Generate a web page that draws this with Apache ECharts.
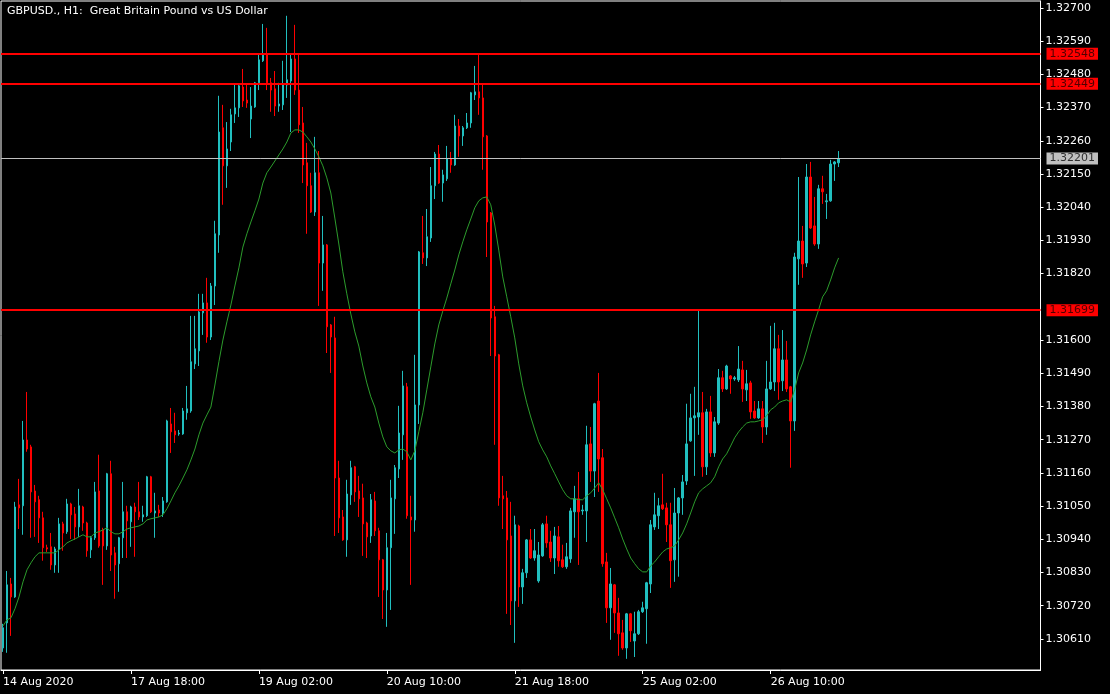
<!DOCTYPE html>
<html>
<head>
<meta charset="utf-8">
<script src="https://cdn.jsdelivr.net/npm/echarts@6/dist/echarts.min.js"></script>
<style>
html,body{margin:0;padding:0;background:#000;}
#chart{width:1110px;height:694px;}
</style>
</head>
<body>
<div id="chart"></div>
<script>
const titleText = 'GBPUSD., H1:  Great Britain Pound vs US Dollar';
const xTickLabels = ['14 Aug 2020','17 Aug 18:00','19 Aug 02:00','20 Aug 10:00','21 Aug 18:00','25 Aug 02:00','26 Aug 10:00'];
const yTickLabels = ['1.32700','1.32590','1.32480','1.32370','1.32260','1.32150','1.32040','1.31930','1.31820','1.31600','1.31490','1.31380','1.31270','1.31160','1.31050','1.30940','1.30830','1.30720','1.30610'];
const levelLines = [1.32548, 1.32449, 1.31699];
const bidPrice = 1.32201;

const open = [
1.30580,1.30663,1.30792,1.30749,1.31054,1.31051,1.31269,1.31246,1.31100,1.31071,
1.31011,1.30912,1.30915,1.30855,1.30908,1.30991,1.30965,1.31057,1.31024,1.30981,
1.31047,1.30994,1.30905,1.30945,1.31100,1.30971,1.30918,1.31157,1.30895,1.30859,
1.30945,1.31031,1.30998,1.31047,1.31031,1.31014,1.31018,1.31147,1.31027,1.31037,
1.31027,1.31064,1.31322,1.31299,1.31289,1.31289,1.31359,1.31365,1.31521,1.31564,
1.31690,1.31723,1.31610,1.31779,1.31948,1.32303,1.32177,1.32256,1.32349,1.32369,
1.32438,1.32395,1.32332,1.32372,1.32452,1.32525,1.32548,1.32452,1.32432,1.32375,
1.32379,1.32445,1.32458,1.32531,1.32428,1.32319,1.32187,1.32111,1.32024,1.32154,
1.31855,1.31915,1.31650,1.31607,1.31143,1.31014,1.30938,1.31087,1.31180,1.31100,
1.31077,1.30994,1.30951,1.31067,1.30968,1.30872,1.30772,1.30912,1.31074,1.31173,
1.31286,1.31445,1.31014,1.31004,1.31385,1.31889,1.31872,1.31938,1.32111,1.32216,
1.32120,1.32134,1.32200,1.32180,1.32309,1.32276,1.32303,1.32319,1.32412,1.32422,
1.32402,1.32276,1.32021,1.31677,1.31551,1.31084,1.31077,1.30951,1.30736,1.30984,
1.30782,1.30829,1.30938,1.30878,1.30802,1.30885,1.30991,1.30931,1.30878,1.30948,
1.30872,1.30849,1.30875,1.31031,1.31074,1.31034,1.31034,1.31256,1.31166,1.31398,
1.31210,1.30865,1.30713,1.30789,1.30696,1.30630,1.30580,1.30693,1.30603,1.30627,
1.30700,1.30710,1.30792,1.30981,1.31018,1.31054,1.31044,1.30988,1.30872,1.31027,
1.31077,1.31133,1.31266,1.31342,1.31345,1.31359,1.31180,1.31362,1.31226,1.31325,
1.31475,1.31438,1.31481,1.31471,1.31468,1.31501,1.31435,1.31458,1.31365,1.31342,
1.31372,1.31312,1.31438,1.31461,1.31571,1.31465,1.31534,1.31445,1.31332,1.31869,
1.31928,1.31855,1.32140,1.31978,1.31918,1.32101,1.32058,1.32061,1.32183,1.32187
];
const close = [
1.30647,1.30789,1.30749,1.31047,1.31044,1.31269,1.31239,1.31097,1.31064,1.31011,
1.30912,1.30908,1.30855,1.30908,1.30991,1.30961,1.31057,1.31021,1.30981,1.31051,
1.30994,1.30902,1.30945,1.31097,1.30918,1.30918,1.31157,1.30888,1.30855,1.30945,
1.31031,1.31001,1.31047,1.31031,1.31014,1.31021,1.31147,1.31031,1.31034,1.31027,
1.31067,1.31332,1.31296,1.31286,1.31292,1.31365,1.31372,1.31528,1.31571,1.31693,
1.31723,1.31610,1.31779,1.31952,1.32289,1.32177,1.32233,1.32346,1.32369,1.32442,
1.32392,1.32385,1.32375,1.32452,1.32528,1.32544,1.32452,1.32428,1.32375,1.32382,
1.32445,1.32462,1.32531,1.32428,1.32313,1.32180,1.32111,1.32024,1.32154,1.31855,
1.31915,1.31644,1.31610,1.31143,1.31011,1.30938,1.31090,1.31177,1.31097,1.31074,
1.30991,1.30948,1.31071,1.30968,1.30872,1.30772,1.30912,1.31077,1.31177,1.31292,
1.31448,1.31018,1.31004,1.31385,1.31892,1.31872,1.31942,1.32111,1.32216,1.32120,
1.32147,1.32200,1.32180,1.32309,1.32276,1.32303,1.32319,1.32419,1.32422,1.32402,
1.32273,1.31991,1.31673,1.31547,1.31077,1.31074,1.30938,1.30736,1.30988,1.30782,
1.30829,1.30938,1.30878,1.30902,1.30888,1.30988,1.30928,1.30878,1.30951,1.30869,
1.30849,1.30882,1.31034,1.31074,1.31031,1.31037,1.31253,1.31166,1.31389,1.31206,
1.30859,1.30713,1.30792,1.30696,1.30627,1.30580,1.30693,1.30637,1.30627,1.30700,
1.30713,1.30796,1.30988,1.31021,1.31051,1.31041,1.30988,1.30869,1.31027,1.31077,
1.31130,1.31256,1.31342,1.31349,1.31359,1.31180,1.31362,1.31226,1.31329,1.31475,
1.31438,1.31514,1.31471,1.31475,1.31504,1.31438,1.31455,1.31362,1.31342,1.31372,
1.31312,1.31438,1.31461,1.31571,1.31461,1.31534,1.31438,1.31332,1.31875,1.31928,
1.31852,1.32140,1.31971,1.31918,1.32101,1.32091,1.32061,1.32183,1.32190,1.32201
];
const high = [
1.30660,1.30835,1.30812,1.31064,1.31140,1.31332,1.31428,1.31253,1.31120,1.31084,
1.31031,1.30922,1.30961,1.30915,1.31011,1.30998,1.31074,1.31061,1.31047,1.31107,
1.31051,1.30998,1.30951,1.31130,1.31220,1.30978,1.31160,1.31200,1.30915,1.30948,
1.31130,1.31051,1.31051,1.31061,1.31130,1.31051,1.31150,1.31150,1.31094,1.31054,
1.31080,1.31336,1.31375,1.31359,1.31302,1.31375,1.31448,1.31680,1.31680,1.31753,
1.31753,1.31806,1.31789,1.31995,1.32409,1.32379,1.32322,1.32366,1.32445,1.32445,
1.32498,1.32445,1.32438,1.32455,1.32548,1.32647,1.32634,1.32468,1.32491,1.32452,
1.32525,1.32674,1.32548,1.32644,1.32548,1.32372,1.32253,1.32154,1.32273,1.32226,
1.32011,1.31918,1.31653,1.31677,1.31200,1.31037,1.31137,1.31200,1.31183,1.31150,
1.31124,1.30998,1.31090,1.31097,1.30978,1.30875,1.30961,1.31137,1.31186,1.31382,
1.31498,1.31458,1.31084,1.31551,1.31895,1.32011,1.32034,1.32173,1.32223,1.32246,
1.32164,1.32243,1.32223,1.32346,1.32332,1.32309,1.32352,1.32422,1.32508,1.32548,
1.32445,1.32279,1.32024,1.31713,1.31554,1.31150,1.31100,1.31064,1.31018,1.30988,
1.30842,1.30941,1.30974,1.30974,1.30931,1.30994,1.31018,1.30968,1.30981,1.30984,
1.30922,1.30928,1.31044,1.31117,1.31163,1.31054,1.31316,1.31312,1.31392,1.31491,
1.31239,1.30895,1.30845,1.30792,1.30746,1.30673,1.30696,1.30696,1.30700,1.30706,
1.30733,1.30799,1.31004,1.31094,1.31077,1.31157,1.31061,1.31061,1.31110,1.31080,
1.31153,1.31389,1.31422,1.31445,1.31700,1.31428,1.31372,1.31415,1.31345,1.31504,
1.31498,1.31518,1.31484,1.31481,1.31580,1.31531,1.31501,1.31465,1.31398,1.31398,
1.31398,1.31531,1.31647,1.31657,1.31617,1.31633,1.31597,1.31448,1.31889,1.32140,
1.31978,1.32183,1.32190,1.32074,1.32114,1.32144,1.32084,1.32197,1.32193,1.32226
];
const low = [
1.30567,1.30564,1.30620,1.30746,1.30974,1.30955,1.31230,1.30945,1.30948,1.30928,
1.30869,1.30898,1.30839,1.30829,1.30829,1.30902,1.30958,1.30941,1.30938,1.30948,
1.30968,1.30882,1.30878,1.30938,1.30912,1.30789,1.30905,1.30835,1.30743,1.30766,
1.30878,1.30878,1.30915,1.30882,1.31004,1.30998,1.31014,1.31027,1.30945,1.31014,
1.31014,1.31061,1.31226,1.31259,1.31283,1.31286,1.31336,1.31359,1.31504,1.31514,
1.31617,1.31591,1.31600,1.31716,1.31889,1.32048,1.32104,1.32226,1.32319,1.32339,
1.32372,1.32369,1.32269,1.32369,1.32428,1.32521,1.32428,1.32356,1.32342,1.32356,
1.32362,1.32402,1.32289,1.32412,1.32286,1.32120,1.31952,1.32021,1.32011,1.31713,
1.31763,1.31557,1.31491,1.30951,1.30961,1.30935,1.30882,1.31054,1.31064,1.31014,
1.30885,1.30878,1.30928,1.30951,1.30749,1.30676,1.30650,1.30706,1.30958,1.31143,
1.31203,1.31008,1.30789,1.30965,1.31322,1.31852,1.31845,1.31925,1.32067,1.32117,
1.32058,1.32127,1.32154,1.32177,1.32207,1.32243,1.32299,1.32303,1.32395,1.32346,
1.32164,1.31875,1.31547,1.31253,1.31051,1.30974,1.30693,1.30656,1.30597,1.30716,
1.30726,1.30812,1.30875,1.30869,1.30796,1.30882,1.30912,1.30865,1.30825,1.30849,
1.30845,1.30842,1.30862,1.30945,1.30855,1.31021,1.30931,1.31130,1.31080,1.31097,
1.30849,1.30663,1.30607,1.30630,1.30554,1.30574,1.30544,1.30600,1.30550,1.30623,
1.30696,1.30594,1.30762,1.30971,1.30974,1.31037,1.30931,1.30779,1.30799,1.30816,
1.31021,1.31120,1.31263,1.31150,1.31286,1.31147,1.31153,1.31213,1.31213,1.31319,
1.31428,1.31435,1.31422,1.31465,1.31461,1.31395,1.31398,1.31339,1.31339,1.31339,
1.31259,1.31286,1.31435,1.31431,1.31402,1.31431,1.31428,1.31177,1.31299,1.31783,
1.31806,1.31842,1.31968,1.31912,1.31902,1.32051,1.32001,1.32058,1.32127,1.32173
];
const maValues = [
1.30653,1.30673,1.30680,1.30710,1.30749,1.30799,1.30839,1.30862,1.30882,1.30895,
1.30895,1.30895,1.30895,1.30895,1.30905,1.30915,1.30928,1.30935,1.30941,1.30948,
1.30955,1.30948,1.30948,1.30961,1.30965,1.30971,1.30978,1.30965,1.30958,1.30958,
1.30965,1.30974,1.30978,1.30981,1.30984,1.30991,1.31004,1.31008,1.31011,1.31014,
1.31021,1.31041,1.31067,1.31094,1.31117,1.31143,1.31170,1.31203,1.31239,1.31286,
1.31325,1.31352,1.31378,1.31451,1.31528,1.31600,1.31660,1.31716,1.31779,1.31839,
1.31908,1.31952,1.31991,1.32028,1.32067,1.32120,1.32154,1.32173,1.32193,1.32213,
1.32233,1.32256,1.32286,1.32296,1.32296,1.32289,1.32273,1.32256,1.32233,1.32207,
1.32177,1.32137,1.32087,1.32004,1.31918,1.31826,1.31753,1.31686,1.31627,1.31580,
1.31514,1.31458,1.31412,1.31378,1.31325,1.31279,1.31246,1.31233,1.31226,1.31236,
1.31239,1.31230,1.31203,1.31233,1.31296,1.31359,1.31435,1.31511,1.31587,1.31650,
1.31696,1.31739,1.31786,1.31832,1.31882,1.31925,1.31965,1.32001,1.32038,1.32061,
1.32071,1.32074,1.32048,1.31981,1.31898,1.31809,1.31743,1.31677,1.31607,1.31521,
1.31448,1.31392,1.31345,1.31302,1.31263,1.31236,1.31213,1.31183,1.31157,1.31130,
1.31104,1.31084,1.31074,1.31074,1.31071,1.31071,1.31084,1.31094,1.31110,1.31127,
1.31104,1.31074,1.31044,1.31011,1.30978,1.30941,1.30908,1.30878,1.30859,1.30842,
1.30832,1.30832,1.30852,1.30865,1.30882,1.30898,1.30908,1.30912,1.30918,1.30938,
1.30961,1.30991,1.31027,1.31064,1.31094,1.31107,1.31117,1.31127,1.31147,1.31180,
1.31206,1.31223,1.31249,1.31276,1.31296,1.31312,1.31325,1.31329,1.31329,1.31332,
1.31336,1.31349,1.31369,1.31378,1.31392,1.31398,1.31402,1.31395,1.31435,1.31491,
1.31524,1.31567,1.31617,1.31660,1.31700,1.31743,1.31763,1.31799,1.31839,1.31872
];

// hourly bar times (weekends skipped), plus empty slots for the right-hand chart shift
const months = ['Jan','Feb','Mar','Apr','May','Jun','Jul','Aug','Sep','Oct','Nov','Dec'];
const slotCount = 260;
const categories = [];
let tms = Date.UTC(2020, 7, 14, 10);
while (categories.length < slotCount) {
  const d = new Date(tms);
  const wd = d.getUTCDay();
  if (wd !== 0 && wd !== 6) {
    categories.push(d.getUTCDate() + ' ' + months[d.getUTCMonth()] + ' ' + String(d.getUTCHours()).padStart(2,'0') + ':00');
  }
  tms += 3600000;
}
const labelStep = 32;

const ohlc = open.map((o, i) => [o, close[i], low[i], high[i]]);

const FONT = 'DejaVu Sans';
const chart = echarts.init(document.getElementById('chart'), null, {renderer: 'canvas'});

const levelItems = levelLines.map(v => ({
  name: v.toFixed(5),
  yAxis: v,
  lineStyle: {color: '#ff0000', width: 2, type: 'solid'},
  label: {backgroundColor: '#ff0000', color: '#500000'}
}));
levelItems.push({
  name: bidPrice.toFixed(5),
  yAxis: bidPrice,
  lineStyle: {color: '#c0c0c0', width: 1, type: 'solid'},
  label: {backgroundColor: '#c0c0c0', color: '#303030'}
});

chart.setOption({
  animation: false,
  backgroundColor: '#000000',
  title: {
    text: titleText,
    left: 2, top: 1,
    textStyle: {color: '#ffffff', fontSize: 11, fontWeight: 'normal', fontFamily: FONT}
  },
  grid: {
    left: 0.5, top: 1, width: 1040, bottom: 24,
    show: true, borderColor: '#ffffff', borderWidth: 1, backgroundColor: '#000000'
  },
  xAxis: {
    type: 'category',
    data: categories,
    boundaryGap: true,
    axisLine: {show: true, lineStyle: {color: '#ffffff', width: 1}},
    axisTick: {
      show: true, alignWithLabel: true, length: 4,
      interval: (i) => i % labelStep === 0 && i / labelStep < xTickLabels.length,
      lineStyle: {color: '#ffffff'}
    },
    axisLabel: {
      show: true,
      interval: (i) => i % labelStep === 0 && i / labelStep < xTickLabels.length,
      formatter: (v, i) => xTickLabels[Math.round(i / labelStep)] || '',
      align: 'left',
      margin: 7,
      color: '#ffffff', fontSize: 11, fontFamily: FONT
    },
    splitLine: {show: false}
  },
  yAxis: {
    type: 'value',
    position: 'right',
    min: 1.30507, max: 1.32723,
    scale: true,
    axisLine: {show: true, lineStyle: {color: '#ffffff', width: 1}},
    axisTick: {show: true, length: 3, customValues: yTickLabels.map(Number), lineStyle: {color: '#ffffff'}},
    axisLabel: {
      show: true, customValues: yTickLabels.map(Number),
      formatter: (v) => Number(v).toFixed(5),
      margin: 5, color: '#ffffff', fontSize: 11, fontFamily: FONT
    },
    splitLine: {show: false}
  },
  series: [
    {
      type: 'candlestick',
      data: ohlc,
      barWidth: 2,
      itemStyle: {
        color: '#21bfbf', color0: '#ff0000',
        borderColor: '#21bfbf', borderColor0: '#ff0000',
        borderColorDoji: '#21bfbf',
        borderWidth: 1
      },
      z: 2
    },
    {
      type: 'line',
      data: maValues,
      showSymbol: false,
      symbol: 'none',
      lineStyle: {color: '#2c9c2c', width: 1},
      z: 3,
      silent: true,
      markLine: {
        silent: true,
        symbol: 'none',
        animation: false,
        precision: 5,
        label: {
          show: true, position: 'end', distance: 6,
          formatter: (p) => p.name,
          fontSize: 11, fontFamily: FONT, lineHeight: 11,
          padding: [1, 3, 0, 3]
        },
        data: levelItems
      }
    }
  ]
});
</script>
</body>
</html>
